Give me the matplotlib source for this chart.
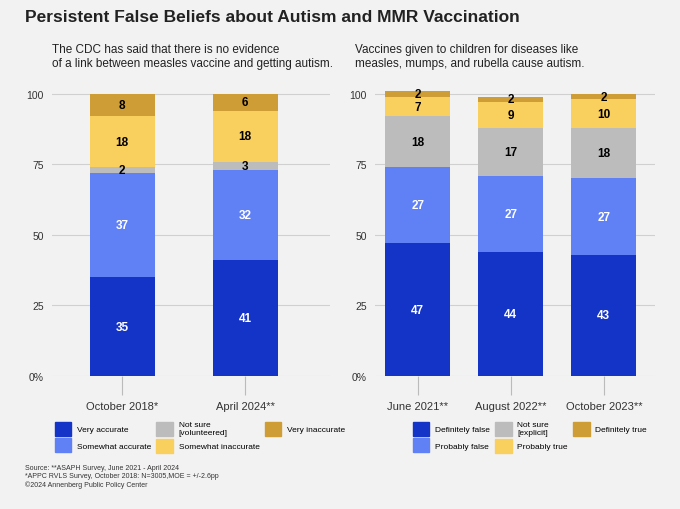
import matplotlib.pyplot as plt
from matplotlib.patches import Patch

plt.rcParams['font.family'] = ['Liberation Sans', 'DejaVu Sans']

# --- data ---
left_periods = ['October 2018*', 'April 2024**']
left_cats = ['Very accurate', 'Somewhat accurate', 'Not sure\n[volunteered]',
             'Somewhat inaccurate', 'Very inaccurate']
left_vals = [[35, 41], [37, 32], [2, 3], [18, 18], [8, 6]]

right_periods = ['June 2021**', 'August 2022**', 'October 2023**']
right_cats = ['Definitely false', 'Probably false', 'Not sure\n[explicit]',
              'Probably true', 'Definitely true']
right_vals = [[47, 44, 43], [27, 27, 27], [18, 17, 18], [7, 9, 10], [2, 2, 2]]

colors = ['#1434c8', '#6080f5', '#bcbcbc', '#f9cf5e', '#cf9d35']
text_colors = ['white', 'white', 'black', 'black', 'black']
BG = '#f2f2f2'

fig = plt.figure(figsize=(6.8, 5.1), dpi=100, facecolor=BG)


def draw(ax, periods, vals, width):
    ax.set_facecolor(BG)
    x = list(range(len(periods)))
    bottom = [0] * len(periods)
    for i, series in enumerate(vals):
        ax.bar(x, series, width, bottom=bottom, color=colors[i], zorder=2)
        for j, v in enumerate(series):
            ax.text(x[j], bottom[j] + v / 2, str(v), ha='center', va='center',
                    color=text_colors[i], fontsize=8.5, fontweight='bold', zorder=3)
        bottom = [b + v for b, v in zip(bottom, series)]
    ax.set_ylim(0, 101)
    ax.set_yticks([0, 25, 50, 75, 100])
    ax.set_yticklabels(['0%', '25', '50', '75', '100'], fontsize=7.5, color='#333333')
    ax.grid(axis='y', color='#d0d0d0', linewidth=0.8, zorder=0)
    ax.set_xticks(x)
    ax.set_xticklabels(periods, fontsize=8, color='#333333')
    ax.tick_params(axis='y', length=0, pad=6)
    ax.tick_params(axis='x', length=14, color='#bbbbbb', pad=4)
    for s in ax.spines.values():
        s.set_visible(False)


ax1 = fig.add_axes([52 / 680, 1 - 377 / 510, 278 / 680, 285 / 510])
draw(ax1, left_periods, left_vals, 0.53)
ax1.set_xlim(-0.57, 1.69)

ax2 = fig.add_axes([375 / 680, 1 - 377 / 510, 280 / 680, 285 / 510])
draw(ax2, right_periods, right_vals, 0.7)
ax2.set_xlim(-0.46, 2.55)

fig.text(25 / 680, 1 - 18 / 510, 'Persistent False Beliefs about Autism and MMR Vaccination',
         fontsize=12.5, fontweight='bold', va='center', color='#222222')
fig.text(52 / 680, 1 - 57 / 510,
         'The CDC has said that there is no evidence\nof a link between measles vaccine and getting autism.',
         fontsize=8.5, va='center', color='#222222')
fig.text(355 / 680, 1 - 57 / 510,
         'Vaccines given to children for diseases like\nmeasles, mumps, and rubella cause autism.',
         fontsize=8.5, va='center', color='#222222')

leg_kw = dict(ncol=3, loc='center left', frameon=False, fontsize=6,
              handlelength=2.0, handleheight=2.2, columnspacing=0.6,
              labelspacing=0.3, handletextpad=0.7)
fig.legend([Patch(color=c) for c in colors], left_cats,
           bbox_to_anchor=(47 / 680, 1 - 438 / 510), **leg_kw)
fig.legend([Patch(color=c) for c in colors], right_cats,
           bbox_to_anchor=(405 / 680, 1 - 438 / 510), **leg_kw)

fig.text(25 / 680, 1 - 477 / 510,
         'Source: **ASAPH Survey, June 2021 - April 2024\n'
         '*APPC RVLS Survey, October 2018: N=3005,MOE = +/-2.6pp\n'
         '\u00a92024 Annenberg Public Policy Center',
         fontsize=5, va='center', color='#333333', linespacing=1.3)

fig.savefig('out.png', dpi=100, facecolor=BG)
